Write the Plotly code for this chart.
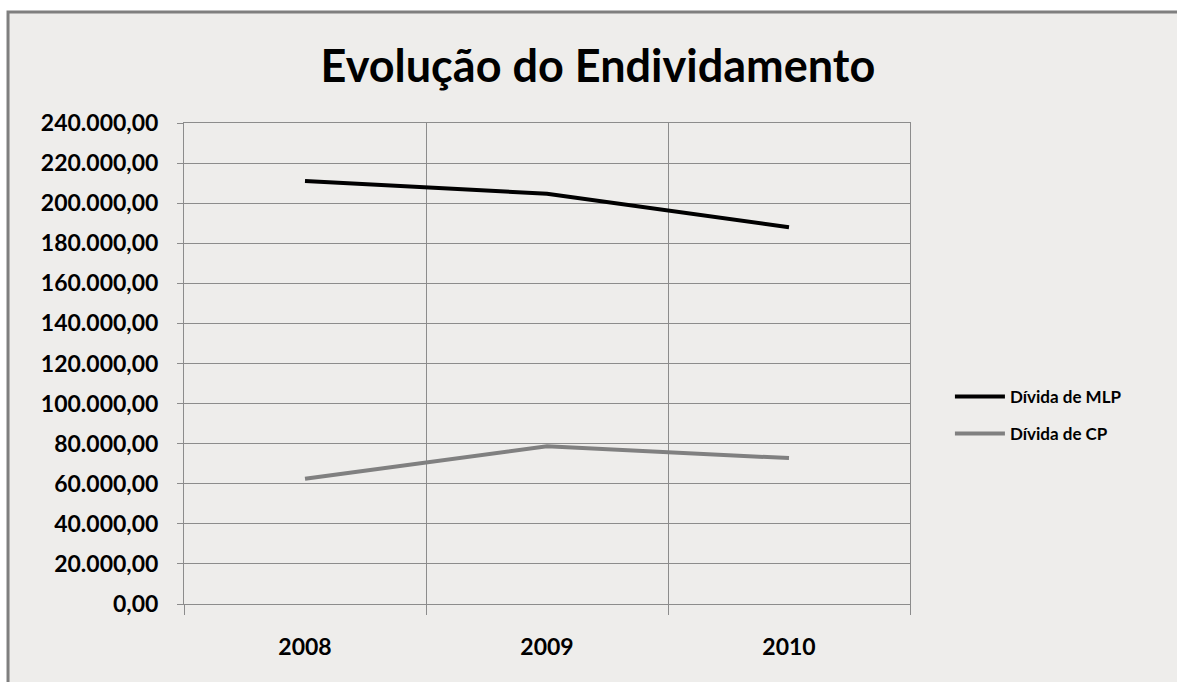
import plotly.graph_objects as go

years = ["2008", "2009", "2010"]
divida_mlp = [211000, 204700, 188000]
divida_cp = [62500, 78700, 72800]
y_ticks = list(range(0, 240001, 20000))

fig = go.Figure()
fig.add_trace(go.Scatter(x=years, y=divida_mlp, mode="lines", name="Dívida de MLP",
                         legendgroup="a", line=dict(color="#000000", width=4)))
fig.add_trace(go.Scatter(x=years, y=divida_cp, mode="lines", name="Dívida de CP",
                         legendgroup="b", line=dict(color="#808080", width=4)))

font_family = "Lato, Carlito, 'Open Sans', sans-serif"

fig.update_layout(
    width=1177, height=682,
    margin=dict(l=184, r=267, t=123, b=78),
    paper_bgcolor="#ffffff",
    plot_bgcolor="#d9d9d9",
    separators=",.",
    title=dict(text="<b>Evolução do Endividamento</b>", x=0.508, xanchor="center",
               y=0.903, yanchor="middle",
               font=dict(family=font_family, size=45, color="#000000")),
    legend=dict(x=1.055, y=0.392, xanchor="left", yanchor="middle",
                font=dict(family=font_family, size=17, color="#000000", weight="bold"),
                bgcolor="rgba(0,0,0,0)", tracegroupgap=12, itemwidth=50),
    font=dict(family=font_family, color="#000000"),
    showlegend=True,
)
fig.update_xaxes(type="category", range=[-0.5, 2.5], tickson="boundaries",
                 showgrid=True, gridcolor="#8c8c8c", gridwidth=1,
                 ticks="outside", ticklen=10, tickcolor="#8c8c8c",
                 showline=True, linecolor="#8c8c8c", linewidth=1, mirror=True,
                 tickfont=dict(family=font_family, size=23, color="#000000", weight="bold"),
                 ticklabelstandoff=22)
fig.update_yaxes(range=[0, 240000], tickvals=y_ticks, tickformat=",.2f",
                 showgrid=True, gridcolor="#8c8c8c", gridwidth=1,
                 ticks="outside", ticklen=6, tickcolor="#8c8c8c",
                 showline=True, linecolor="#8c8c8c", linewidth=1, mirror=True,
                 zeroline=False, ticklabelstandoff=14,
                 tickfont=dict(family=font_family, size=23, color="#000000", weight="bold"))

# chart area frame (textured light-gray panel with gray border on left/top)
fig.add_shape(type="rect", xref="paper", yref="paper", x0=-0.2424, x1=1.6, y0=-0.3, y1=1.2308,
              line=dict(color="#7f7f7f", width=3), fillcolor="#eeedeb", layer="below")

fig.write_html("out.html", config={"displayModeBar": False},
               post_script="document.body.style.margin='0px';")
